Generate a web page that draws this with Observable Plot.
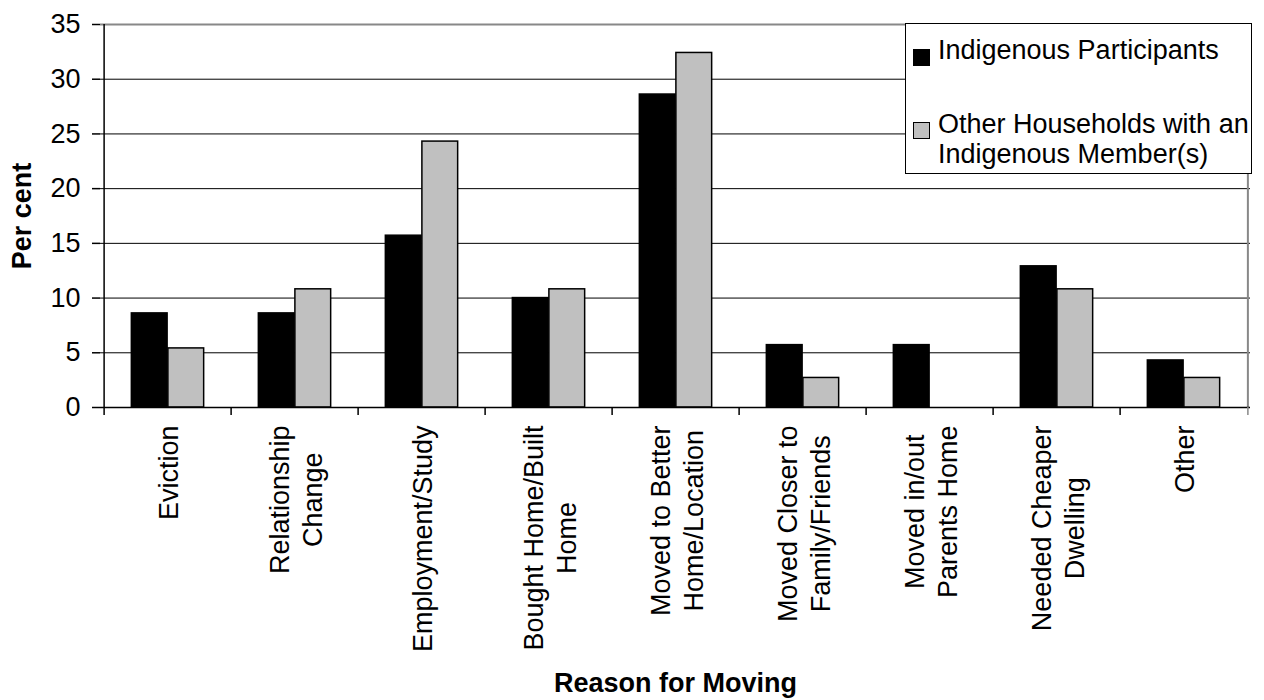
<!DOCTYPE html>
<html>
<head>
<meta charset="utf-8">
<script src="https://cdn.jsdelivr.net/npm/d3@7"></script>
<script src="https://cdn.jsdelivr.net/npm/@observablehq/plot@0.6"></script>
<style>
  html, body { margin: 0; padding: 0; background: #fff; }
  #wrap { position: relative; width: 1264px; height: 700px; font-family: "Liberation Sans", Arial, sans-serif; }
  #legend { position: absolute; left: 905px; top: 23px; width: 345px; height: 149px; border: 1.5px solid #000; background: #fff; box-sizing: content-box; }
  .sw { position: absolute; width: 15px; height: 15px; border: 1px solid #000; }
  .lt { position: absolute; font-size: 27px; line-height: 30px; color: #000; white-space: nowrap; }
</style>
</head>
<body>
<div id="wrap"></div>
<script>
const categories = ["Eviction", "Relationship Change", "Employment/Study", "Bought Home/Built Home",
  "Moved to Better Home/Location", "Moved Closer to Family/Friends", "Moved in/out Parents Home",
  "Needed Cheaper Dwelling", "Other"];
const tickLabels = ["Eviction", "Relationship\nChange", "Employment/Study", "Bought Home/Built\nHome",
  "Moved to Better\nHome/Location", "Moved Closer to\nFamily/Friends", "Moved in/out\nParents Home",
  "Needed Cheaper\nDwelling", "Other"];
const seriesNames = ["Indigenous Participants", "Other Households with an Indigenous Member(s)"];
const indigenous = [8.6, 8.6, 15.7, 10.0, 28.6, 5.7, 5.7, 12.9, 4.3];
const otherHouseholds = [5.4, 10.8, 24.3, 10.8, 32.4, 2.7, 0, 10.8, 2.7];
const yTicks = [0, 5, 10, 15, 20, 25, 30, 35];
const colors = ["#000000", "#c0c0c0"];
const yTitle = "Per cent";
const xTitle = "Reason for Moving";

const W = 1264, H = 700, mL = 100, mR = 14, mT = 24, mB = 293;
const bw = (W - mL - mR) / categories.length;
const groupPad = 0.214; // fraction of band left empty on each side
const FONT = "\"Liberation Sans\", Arial, sans-serif";
const FS = 27;

const ctx = document.createElement("canvas").getContext("2d");
ctx.font = `${FS}px ${FONT}`;
const maxLen = tickLabels.map(t => Math.max(...t.split("\n").map(s => ctx.measureText(s).width)));

const labelMarks = categories.map((c, i) =>
  Plot.text([c], {x: d => d, text: () => tickLabels[i], frameAnchor: "bottom", rotate: -90,
    textAnchor: "middle", lineAnchor: "middle", lineHeight: 1.2, fontSize: FS, dy: 18 + maxLen[i] / 2, fill: "#000"})
);

const chart = Plot.plot({
  width: W, height: H, marginLeft: mL, marginRight: mR, marginTop: mT, marginBottom: mB,
  x: {domain: categories, padding: 0, axis: null},
  y: {domain: [0, 35], axis: null},
  style: {fontFamily: FONT, fontSize: FS + "px", color: "#000", background: "transparent", overflow: "visible"},
  marks: [
    Plot.ruleY(yTicks.filter(t => t > 0 && t < 35), {stroke: "#000", strokeWidth: 1}),
    Plot.ruleY([35], {stroke: "#888", strokeWidth: 2}),
    Plot.barY(categories, {x: d => d, y: (d, i) => indigenous[i], fill: colors[0], stroke: "#000", strokeWidth: 1.5,
      insetLeft: bw * groupPad, insetRight: bw * 0.5}),
    Plot.barY(categories, {x: d => d, y: (d, i) => otherHouseholds[i], fill: colors[1], stroke: "#000", strokeWidth: 1.5,
      insetLeft: bw * 0.5, insetRight: bw * groupPad}),
    Plot.ruleX([categories[categories.length - 1]], {x: d => d, dx: bw / 2, stroke: "#888", strokeWidth: 2}),
    Plot.ruleX([categories[0]], {x: d => d, dx: -bw / 2, stroke: "#000", strokeWidth: 1.5}),
    Plot.ruleY([0], {stroke: "#000", strokeWidth: 1.5}),
    Plot.axisX({ticks: categories, tickSize: 8, tickFormat: () => "", dx: -bw / 2, strokeWidth: 1.5}),
    Plot.axisX({ticks: categories.slice(-1), tickSize: 8, tickFormat: () => "", dx: bw / 2, stroke: "#888", strokeWidth: 1.5}),
    Plot.axisY({ticks: yTicks, tickSize: 8, tickPadding: 12, fontSize: FS, strokeWidth: 1.5, label: null}),
    ...labelMarks,
    Plot.text([yTitle], {text: d => d, frameAnchor: "left", rotate: -90, dx: -78, textAnchor: "middle", lineAnchor: "middle",
      fontWeight: "bold", fontSize: FS}),
    Plot.text([xTitle], {text: d => d, frameAnchor: "bottom", dy: 276, textAnchor: "middle", lineAnchor: "middle",
      fontWeight: "bold", fontSize: FS})
  ]
});

const wrap = document.getElementById("wrap");
wrap.appendChild(chart);

// legend
const lg = document.createElement("div");
lg.id = "legend";
wrap.appendChild(lg);
const items = [
  {color: colors[0], text: seriesNames[0], sqTop: 49, txtTop: 35},
  {color: colors[1], text: "Other Households with an<br>Indigenous Member(s)", sqTop: 122, txtTop: 109}
];
items.forEach(it => {
  const sq = document.createElement("div");
  sq.className = "sw";
  sq.style.left = "913px"; sq.style.top = it.sqTop + "px"; sq.style.background = it.color;
  wrap.appendChild(sq);
  const t = document.createElement("div");
  t.className = "lt";
  t.style.left = "938px"; t.style.top = it.txtTop + "px";
  t.innerHTML = it.text;
  wrap.appendChild(t);
});
</script>
</body>
</html>
